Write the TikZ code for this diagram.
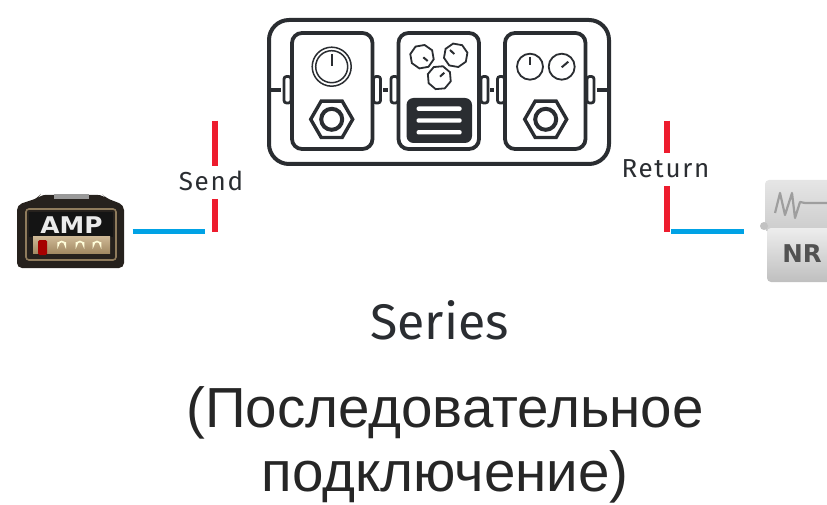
\documentclass[tikz,border=0pt]{standalone}
\usepackage{fontspec}
\setmainfont{Liberation Sans}
\newfontfamily\labelfont[LetterSpace=6.5]{Fira Sans}
\newfontfamily\bigfont[LetterSpace=0]{Fira Sans}
\newfontfamily\badgefont{DejaVu Sans Bold}
\usetikzlibrary{shapes.geometric}
\definecolor{ink}{HTML}{2A2D31}
\definecolor{sigred}{HTML}{ED1C2E}
\definecolor{sigblue}{HTML}{00A2E5}
\definecolor{ampbody}{HTML}{26211D}
\definecolor{amptan}{HTML}{8F7B5C}
\definecolor{ampgold}{HTML}{BFA274}
\tikzset{
  x=1pt,y=-1pt,
  frameline/.style={draw=ink,line width=4pt,rounded corners=20pt},
  pedalbox/.style={draw=ink,line width=3.8pt,rounded corners=10pt},
  jackbox/.style={draw=ink,line width=2.8pt,rounded corners=2.5pt},
  stub/.style={ink,line width=4pt},
  thinline/.style={draw=ink,line width=1.8pt},
  tick/.style={ink,line width=2pt},
  hexa/.style={draw=ink,line width=3.4pt,line join=miter},
  redline/.style={sigred,line width=5.6pt},
  blueline/.style={sigblue,line width=5.6pt},
  smalllabel/.style={text=ink,font=\labelfont\fontsize{26}{30}\selectfont,inner sep=0pt},
  biglabel/.style={text=ink,font=\bigfont\fontsize{50}{54}\selectfont,inner sep=0pt},
  rulabel/.style={text=black!85,font=\fontsize{56.5}{64}\selectfont,align=center,inner sep=0pt},
}
\begin{document}
\begin{tikzpicture}
\useasboundingbox (0,0) rectangle (827,505);
% frame
\draw[frameline] (269,20) rectangle (609,164);
% pedals
\foreach \l in {292,398.5,505}{
  \draw[pedalbox] (\l,33) rectangle ++(80.5,116);
}
% jacks
\foreach \l/\w in {284/7,373.5/7,391/7,481/7,497.5/7,587/7}{
  \draw[jackbox] (\l,76.5) rectangle ++(\w,26.5);
}
% stubs
\draw[stub] (270,90) -- (281,90);
\draw[stub] (383,90) -- (388,90);
\draw[stub] (490,90) -- (494,90);
\draw[stub] (597,90) -- (607,90);
% pedal 1
\draw[thinline,line width=1.5pt] (331.7,66.7) circle (19.5);
\draw[thinline,line width=1.5pt] (331.7,66.7) circle (16);
\draw[tick] (331.7,54) -- (331.7,66);
% footswitches
\foreach \c in {331.7,545.7}{
  \node[hexa,regular polygon,regular polygon sides=6,minimum size=42pt,inner sep=0pt] (fs\c) at (\c,119.3) {};
  \draw[thinline,line width=4pt] (\c,119.3) circle (10.5);
}
% pedal 2
\foreach \c/\d/\a in {422/56.7/10,455.7/55.3/-10,439.3/77.7/5}{
  \node[draw=ink,line width=1.8pt,regular polygon,regular polygon sides=8,minimum size=24pt,inner sep=0pt,rotate=\a] at (\c,\d) {};
}
\draw[tick] (423.3,57.3) -- (427.7,61);
\draw[tick] (450,50) -- (454.3,54);
\draw[tick] (440,76.7) -- (444.3,72.7);
\fill[ink,rounded corners=7pt] (406.5,98) rectangle (472,143);
\foreach \y in {108.7,120.5,132.3}{
  \fill[white,rounded corners=2pt] (416.5,\y-2.2) rectangle (461.7,\y+2.2);
}
% pedal 3
\draw[thinline] (530,66.7) circle (13);
\draw[thinline] (561.7,66.7) circle (13);
\draw[tick] (530,57) -- (530,65);
\draw[tick] (561.7,67.3) -- (568.3,61.7);
% signal lines
\coordinate (sa) at (215,120.7); \coordinate (sb) at (215,166);
\coordinate (sc) at (215,199); \coordinate (sd) at (215,231.5);
\coordinate (ba) at (132.7,231.5); \coordinate (bb) at (204.7,231.5);
\coordinate (ra) at (667,120.7); \coordinate (rb) at (667,152.7);
\coordinate (rc) at (667,186); \coordinate (rd) at (667,231.5);
\coordinate (ca) at (671,231.5); \coordinate (cb) at (743.5,231.5);
\draw[redline] (sa) -- (sb);
\draw[redline] (sc) -- (sd);
\draw[blueline] (ba) -- (bb);
\draw[redline] (ra) -- (rb);
\draw[redline] (rc) -- (rd);
\draw[blueline] (ca) -- (cb);
% labels
\node[smalllabel] (send) at (211,181) {Send};
\node[smalllabel] (ret) at (665.5,169) {Return};
\node[biglabel] (series) at (439.5,320) {Series};
\node[rulabel] (ru) at (445,444.5) {(Последовательное\\подключение)};
% amp
\fill[ampbody,rounded corners=5pt] (17,205) -- (38,198) -- (40,195) -- (103,195) -- (106,198) -- (124,205) -- (124,268) -- (17,268) -- cycle;
\fill[black!40] (54,194) rectangle (89,199);
\draw[amptan,line width=1.6pt,rounded corners=3pt] (26,209) rectangle (116,260);
\fill[black!92] (29,212) rectangle (113,237);
\shade[top color=ampgold!75!white,bottom color=ampgold!85!black] (33,236) rectangle (110,253);
\fill[red!65!black,rounded corners=1.5pt] (38,240) rectangle (47,255);
\foreach \c in {61.7,80,97}{\draw[white!85!yellow,line width=1.6pt] (\c-3.5,242) -- (\c-3.5,245) arc[start angle=180,end angle=360,radius=3.5] -- (\c+3.5,242);}
\node[font=\badgefont\fontsize{23}{23}\selectfont,text=white!92!black,inner sep=0pt,xscale=1.08] (amp) at (71.5,225) {AMP};
% NR
\shade[top color=black!10,bottom color=black!20,rounded corners=4pt] (765,180) rectangle (835,232);
\shade[top color=black!7,bottom color=black!25,rounded corners=4pt] (767,228) rectangle (835,282);
\fill[black!24] (764,226) circle (4);
\draw[black!38,line width=2.2pt,line join=round] (775,213) -- (780,193) -- (785,215) -- (792,193) -- (795,218) -- (800,202) -- (805,203) -- (827,203);
\node[font=\badgefont\fontsize{24.5}{24.5}\selectfont,text=black!68,inner sep=0pt] (nr) at (802,254) {NR};
\end{tikzpicture}
\end{document}
